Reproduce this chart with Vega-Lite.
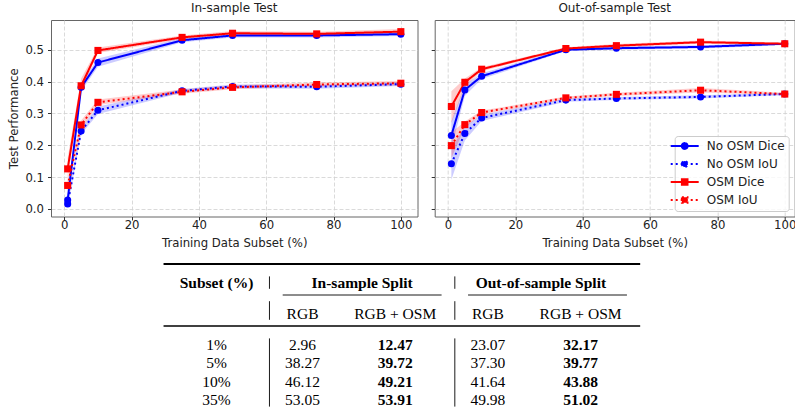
{
  "$schema": "https://vega.github.io/schema/vega-lite/v6.json",
  "padding": {"left": 8, "top": 1, "right": 0, "bottom": 0},
  "background": "white",
  "datasets": {
    "curves": [
      {"panel": "in", "series": "No OSM Dice", "subset": 1, "value": 0.028, "lo": 0.012, "hi": 0.046},
      {"panel": "in", "series": "No OSM Dice", "subset": 5, "value": 0.382, "lo": 0.370, "hi": 0.394},
      {"panel": "in", "series": "No OSM Dice", "subset": 10, "value": 0.460, "lo": 0.447, "hi": 0.473},
      {"panel": "in", "series": "No OSM Dice", "subset": 35, "value": 0.530, "lo": 0.524, "hi": 0.537},
      {"panel": "in", "series": "No OSM Dice", "subset": 50, "value": 0.545, "lo": 0.539, "hi": 0.551},
      {"panel": "in", "series": "No OSM Dice", "subset": 75, "value": 0.545, "lo": 0.539, "hi": 0.551},
      {"panel": "in", "series": "No OSM Dice", "subset": 100, "value": 0.549, "lo": 0.543, "hi": 0.555},
      {"panel": "in", "series": "No OSM IoU", "subset": 1, "value": 0.016, "lo": 0.0045, "hi": 0.028},
      {"panel": "in", "series": "No OSM IoU", "subset": 5, "value": 0.245, "lo": 0.235, "hi": 0.256},
      {"panel": "in", "series": "No OSM IoU", "subset": 10, "value": 0.310, "lo": 0.298, "hi": 0.322},
      {"panel": "in", "series": "No OSM IoU", "subset": 35, "value": 0.371, "lo": 0.365, "hi": 0.377},
      {"panel": "in", "series": "No OSM IoU", "subset": 50, "value": 0.385, "lo": 0.379, "hi": 0.391},
      {"panel": "in", "series": "No OSM IoU", "subset": 75, "value": 0.384, "lo": 0.378, "hi": 0.390},
      {"panel": "in", "series": "No OSM IoU", "subset": 100, "value": 0.392, "lo": 0.386, "hi": 0.398},
      {"panel": "in", "series": "OSM Dice", "subset": 1, "value": 0.126, "lo": 0.095, "hi": 0.160},
      {"panel": "in", "series": "OSM Dice", "subset": 5, "value": 0.387, "lo": 0.372, "hi": 0.410},
      {"panel": "in", "series": "OSM Dice", "subset": 10, "value": 0.498, "lo": 0.490, "hi": 0.507},
      {"panel": "in", "series": "OSM Dice", "subset": 35, "value": 0.539, "lo": 0.533, "hi": 0.545},
      {"panel": "in", "series": "OSM Dice", "subset": 50, "value": 0.552, "lo": 0.546, "hi": 0.559},
      {"panel": "in", "series": "OSM Dice", "subset": 75, "value": 0.550, "lo": 0.544, "hi": 0.557},
      {"panel": "in", "series": "OSM Dice", "subset": 100, "value": 0.557, "lo": 0.549, "hi": 0.5655},
      {"panel": "in", "series": "OSM IoU", "subset": 1, "value": 0.074, "lo": 0.055, "hi": 0.095},
      {"panel": "in", "series": "OSM IoU", "subset": 5, "value": 0.264, "lo": 0.252, "hi": 0.278},
      {"panel": "in", "series": "OSM IoU", "subset": 10, "value": 0.335, "lo": 0.327, "hi": 0.344},
      {"panel": "in", "series": "OSM IoU", "subset": 35, "value": 0.368, "lo": 0.362, "hi": 0.375},
      {"panel": "in", "series": "OSM IoU", "subset": 50, "value": 0.382, "lo": 0.376, "hi": 0.389},
      {"panel": "in", "series": "OSM IoU", "subset": 75, "value": 0.391, "lo": 0.385, "hi": 0.397},
      {"panel": "in", "series": "OSM IoU", "subset": 100, "value": 0.395, "lo": 0.388, "hi": 0.402},
      {"panel": "out", "series": "No OSM Dice", "subset": 1, "value": 0.231, "lo": 0.190, "hi": 0.275},
      {"panel": "out", "series": "No OSM Dice", "subset": 5, "value": 0.374, "lo": 0.355, "hi": 0.390},
      {"panel": "out", "series": "No OSM Dice", "subset": 10, "value": 0.417, "lo": 0.408, "hi": 0.426},
      {"panel": "out", "series": "No OSM Dice", "subset": 35, "value": 0.500, "lo": 0.496, "hi": 0.505},
      {"panel": "out", "series": "No OSM Dice", "subset": 50, "value": 0.505, "lo": 0.500, "hi": 0.510},
      {"panel": "out", "series": "No OSM Dice", "subset": 75, "value": 0.509, "lo": 0.504, "hi": 0.514},
      {"panel": "out", "series": "No OSM Dice", "subset": 100, "value": 0.519, "lo": 0.515, "hi": 0.523},
      {"panel": "out", "series": "No OSM IoU", "subset": 1, "value": 0.142, "lo": 0.092, "hi": 0.190},
      {"panel": "out", "series": "No OSM IoU", "subset": 5, "value": 0.237, "lo": 0.215, "hi": 0.260},
      {"panel": "out", "series": "No OSM IoU", "subset": 10, "value": 0.286, "lo": 0.276, "hi": 0.296},
      {"panel": "out", "series": "No OSM IoU", "subset": 35, "value": 0.342, "lo": 0.337, "hi": 0.347},
      {"panel": "out", "series": "No OSM IoU", "subset": 50, "value": 0.347, "lo": 0.342, "hi": 0.352},
      {"panel": "out", "series": "No OSM IoU", "subset": 75, "value": 0.352, "lo": 0.347, "hi": 0.357},
      {"panel": "out", "series": "No OSM IoU", "subset": 100, "value": 0.361, "lo": 0.357, "hi": 0.365},
      {"panel": "out", "series": "OSM Dice", "subset": 1, "value": 0.322, "lo": 0.270, "hi": 0.370},
      {"panel": "out", "series": "OSM Dice", "subset": 5, "value": 0.398, "lo": 0.385, "hi": 0.410},
      {"panel": "out", "series": "OSM Dice", "subset": 10, "value": 0.439, "lo": 0.433, "hi": 0.445},
      {"panel": "out", "series": "OSM Dice", "subset": 35, "value": 0.504, "lo": 0.500, "hi": 0.508},
      {"panel": "out", "series": "OSM Dice", "subset": 50, "value": 0.513, "lo": 0.508, "hi": 0.518},
      {"panel": "out", "series": "OSM Dice", "subset": 75, "value": 0.524, "lo": 0.519, "hi": 0.529},
      {"panel": "out", "series": "OSM Dice", "subset": 100, "value": 0.519, "lo": 0.515, "hi": 0.523},
      {"panel": "out", "series": "OSM IoU", "subset": 1, "value": 0.199, "lo": 0.160, "hi": 0.240},
      {"panel": "out", "series": "OSM IoU", "subset": 5, "value": 0.265, "lo": 0.255, "hi": 0.275},
      {"panel": "out", "series": "OSM IoU", "subset": 10, "value": 0.303, "lo": 0.297, "hi": 0.309},
      {"panel": "out", "series": "OSM IoU", "subset": 35, "value": 0.349, "lo": 0.345, "hi": 0.353},
      {"panel": "out", "series": "OSM IoU", "subset": 50, "value": 0.360, "lo": 0.355, "hi": 0.365},
      {"panel": "out", "series": "OSM IoU", "subset": 75, "value": 0.373, "lo": 0.366, "hi": 0.380},
      {"panel": "out", "series": "OSM IoU", "subset": 100, "value": 0.361, "lo": 0.357, "hi": 0.365}
    ],
    "table": [
      {"kind": "toprule", "row": "top", "col": "L", "col2": "R"},
      {"kind": "cmidrule", "row": "cmid", "col": "inL", "col2": "inR"},
      {"kind": "cmidrule", "row": "cmid", "col": "outL", "col2": "outR"},
      {"kind": "midrule", "row": "mid", "col": "L", "col2": "R"},
      {"kind": "vline", "col": "sep1", "row": "h1a", "row2": "h1b"},
      {"kind": "vline", "col": "sep2", "row": "h1a", "row2": "h1b"},
      {"kind": "vline", "col": "sep1", "row": "h2a", "row2": "h2b"},
      {"kind": "vline", "col": "sep2", "row": "h2a", "row2": "h2b"},
      {"kind": "vline", "col": "sep1", "row": "ba", "row2": "bb"},
      {"kind": "vline", "col": "sep2", "row": "ba", "row2": "bb"},
      {"kind": "header", "row": "h1", "col": "Subset", "text": "Subset (%)"},
      {"kind": "header", "row": "h1", "col": "InSplit", "text": "In-sample Split"},
      {"kind": "header", "row": "h1", "col": "OutSplit", "text": "Out-of-sample Split"},
      {"kind": "sub", "row": "h2", "col": "InRGB", "text": "RGB"},
      {"kind": "sub", "row": "h2", "col": "InOSM", "text": "RGB + OSM"},
      {"kind": "sub", "row": "h2", "col": "OutRGB", "text": "RGB"},
      {"kind": "sub", "row": "h2", "col": "OutOSM", "text": "RGB + OSM"},
      {"kind": "value", "row": "1%", "col": "Subset", "text": "1%"},
      {"kind": "value", "row": "1%", "col": "InRGB", "text": "2.96"},
      {"kind": "best", "row": "1%", "col": "InOSM", "text": "12.47"},
      {"kind": "value", "row": "1%", "col": "OutRGB", "text": "23.07"},
      {"kind": "best", "row": "1%", "col": "OutOSM", "text": "32.17"},
      {"kind": "value", "row": "5%", "col": "Subset", "text": "5%"},
      {"kind": "value", "row": "5%", "col": "InRGB", "text": "38.27"},
      {"kind": "best", "row": "5%", "col": "InOSM", "text": "39.72"},
      {"kind": "value", "row": "5%", "col": "OutRGB", "text": "37.30"},
      {"kind": "best", "row": "5%", "col": "OutOSM", "text": "39.77"},
      {"kind": "value", "row": "10%", "col": "Subset", "text": "10%"},
      {"kind": "value", "row": "10%", "col": "InRGB", "text": "46.12"},
      {"kind": "best", "row": "10%", "col": "InOSM", "text": "49.21"},
      {"kind": "value", "row": "10%", "col": "OutRGB", "text": "41.64"},
      {"kind": "best", "row": "10%", "col": "OutOSM", "text": "43.88"},
      {"kind": "value", "row": "35%", "col": "Subset", "text": "35%"},
      {"kind": "value", "row": "35%", "col": "InRGB", "text": "53.05"},
      {"kind": "best", "row": "35%", "col": "InOSM", "text": "53.91"},
      {"kind": "value", "row": "35%", "col": "OutRGB", "text": "49.98"},
      {"kind": "best", "row": "35%", "col": "OutOSM", "text": "51.02"}
    ]
  },
  "vconcat": [
    {
      "hconcat": [
        {
          "width": 366.5,
          "height": 196.5,
          "title": {"text": "In-sample Test", "anchor": "middle", "offset": 5},
          "data": {"name": "curves"},
          "transform": [{"filter": "datum.panel == 'in'"}],
          "encoding": {
            "x": {"field": "subset", "type": "quantitative", "scale": {"domain": [-3.95, 104.95], "nice": false, "zero": false},
                  "axis": {"values": [0, 20, 40, 60, 80, 100], "title": "Training Data Subset (%)"}},
            "y": {"type": "quantitative", "scale": {"domain": [-0.0236, 0.5936], "nice": false, "zero": false},
                  "axis": {"values": [0, 0.1, 0.2, 0.3, 0.4, 0.5], "format": ".1f", "title": "Test Performance", "labelOverlap": false}}
          },
          "layer": [
            {"transform": [{"filter": "datum.series == 'No OSM Dice' || datum.series == 'No OSM IoU'"}],
             "mark": {"type": "area", "color": "#0000ff", "opacity": 0.2},
             "encoding": {"y": {"field": "lo"}, "y2": {"field": "hi"}, "detail": {"field": "series", "type": "nominal"}}},
            {"transform": [{"filter": "datum.series == 'OSM Dice' || datum.series == 'OSM IoU'"}],
             "mark": {"type": "area", "color": "#ff0000", "opacity": 0.2},
             "encoding": {"y": {"field": "lo"}, "y2": {"field": "hi"}, "detail": {"field": "series", "type": "nominal"}}},
            {"mark": {"type": "line", "strokeWidth": 2},
             "encoding": {
               "y": {"field": "value"},
               "color": {"field": "series", "type": "nominal", "scale": {"domain": ["No OSM Dice", "No OSM IoU", "OSM Dice", "OSM IoU"], "range": ["#0000ff", "#0000ff", "#ff0000", "#ff0000"]}, "legend": null},
               "strokeDash": {"field": "series", "type": "nominal", "scale": {"domain": ["No OSM Dice", "No OSM IoU", "OSM Dice", "OSM IoU"], "range": [[1, 0], [2, 3], [1, 0], [2, 3]]}, "legend": null}}},
            {"transform": [{"filter": "datum.series == 'No OSM Dice' || datum.series == 'No OSM IoU'"}],
             "mark": {"type": "point", "shape": "circle", "filled": true, "size": 50, "opacity": 1, "color": "#0000ff"},
             "encoding": {"y": {"field": "value"}}},
            {"transform": [{"filter": "datum.series == 'OSM Dice' || datum.series == 'OSM IoU'"}],
             "mark": {"type": "point", "shape": "square", "filled": true, "size": 50, "opacity": 1, "color": "#ff0000"},
             "encoding": {"y": {"field": "value"}}}
          ]
        },
        {
          "width": 360,
          "height": 196.5,
          "title": {"text": "Out-of-sample Test", "anchor": "middle", "offset": 5},
          "data": {"name": "curves"},
          "transform": [{"filter": "datum.panel == 'out'"}],
          "encoding": {
            "x": {"field": "subset", "type": "quantitative", "scale": {"domain": [-3.95, 102.95], "nice": false, "zero": false},
                  "axis": {"values": [0, 20, 40, 60, 80, 100], "title": "Training Data Subset (%)"}},
            "y": {"type": "quantitative", "scale": {"domain": [-0.0236, 0.5936], "nice": false, "zero": false},
                  "axis": {"values": [0, 0.1, 0.2, 0.3, 0.4, 0.5], "labels": false, "title": null}}
          },
          "layer": [
            {"transform": [{"filter": "datum.series == 'legend key only'"}],
             "mark": {"type": "point", "filled": true, "size": 87, "opacity": 1, "strokeWidth": 2},
             "encoding": {
               "y": {"field": "value"},
               "color": {"field": "series", "type": "nominal",
                 "legend": {
                   "title": null, "orient": "bottom-right", "offset": 6, "padding": 4,
                   "fillColor": "rgba(255,255,255,0.8)", "strokeColor": "#cccccc", "cornerRadius": 3,
                   "labelFont": "DejaVu Sans", "labelFontSize": 12, "labelColor": "#222222",
                   "symbolSize": 87, "symbolStrokeWidth": 2, "symbolOpacity": 1, "labelOffset": 16, "rowPadding": 4
                 }},
               "stroke": {"field": "series", "type": "nominal", "legend": {"title": null},
                 "scale": {"domain": ["No OSM Dice", "No OSM IoU", "OSM Dice", "OSM IoU"], "range": ["#0000ff", "#0000ff", "#ff0000", "#ff0000"]}},
               "shape": {"field": "series", "type": "nominal", "legend": {"title": null},
                 "scale": {"domain": ["No OSM Dice", "No OSM IoU", "OSM Dice", "OSM IoU"],
                           "range": ["M-3,0H3M-0.62,0A0.62,0.62,0,1,0,0.62,0A0.62,0.62,0,1,0,-0.62,0Z",
                                     "M-3,0H3M-0.62,0A0.62,0.62,0,1,0,0.62,0A0.62,0.62,0,1,0,-0.62,0Z",
                                     "M-3,0H3M-0.6,-0.6H0.6V0.6H-0.6Z",
                                     "M-3,0H3M-0.6,-0.6H0.6V0.6H-0.6Z"]}},
               "strokeDash": {"field": "series", "type": "nominal", "legend": {"title": null}}}},
            {"transform": [{"filter": "datum.series == 'No OSM Dice' || datum.series == 'No OSM IoU'"}],
             "mark": {"type": "area", "color": "#0000ff", "opacity": 0.2},
             "encoding": {"y": {"field": "lo"}, "y2": {"field": "hi"}, "detail": {"field": "series", "type": "nominal"}}},
            {"transform": [{"filter": "datum.series == 'OSM Dice' || datum.series == 'OSM IoU'"}],
             "mark": {"type": "area", "color": "#ff0000", "opacity": 0.2},
             "encoding": {"y": {"field": "lo"}, "y2": {"field": "hi"}, "detail": {"field": "series", "type": "nominal"}}},
            {"mark": {"type": "line", "strokeWidth": 2, "opacity": 1},
             "encoding": {
               "y": {"field": "value"},
               "color": {"field": "series", "type": "nominal"},
               "strokeDash": {"field": "series", "type": "nominal"}}},
            {"transform": [{"filter": "datum.series == 'No OSM Dice' || datum.series == 'No OSM IoU'"}],
             "mark": {"type": "point", "shape": "circle", "filled": true, "size": 50, "opacity": 1, "color": "#0000ff"},
             "encoding": {"y": {"field": "value"}}},
            {"transform": [{"filter": "datum.series == 'OSM Dice' || datum.series == 'OSM IoU'"}],
             "mark": {"type": "point", "shape": "square", "filled": true, "size": 50, "opacity": 1, "color": "#ff0000"},
             "encoding": {"y": {"field": "value"}}}
          ]
        }
      ],
      "spacing": 11.7,
      "resolve": {"legend": {"color": "independent", "strokeDash": "independent", "shape": "independent", "stroke": "independent"}}
    },
    {
      "width": 662,
      "height": 142.6,
      "view": {"stroke": null},
      "data": {"name": "table"},
      "encoding": {
        "x": {"field": "col", "type": "nominal", "axis": null,
              "scale": {"type": "point", "padding": 0,
                        "domain": ["x0","x1","x2","x3","x4","x5","x6","x7","x8","x9","x10","x11","x12","x13","x14","x15","x16","L","x18","x19","x20","x21","x22","x23","x24","Subset","x26","x27","x28","x29","x30","x31","x32","sep1","x34","inL","x36","x37","InRGB","x39","x40","x41","x42","x43","x44","x45","x46","InSplit","x48","x49","x50","x51","InOSM","x53","x54","x55","x56","x57","x58","inR","x60","sep2","x62","outL","x64","x65","OutRGB","x67","x68","x69","x70","x71","x72","x73","OutSplit","x75","x76","x77","x78","x79","OutOSM","x81","x82","x83","x84","x85","x86","outR","x88","R","x90","x91","x92","x93","x94","x95","x96","x97","x98","x99","x100"]}},
        "y": {"field": "row", "type": "nominal", "axis": null,
              "scale": {"type": "point", "padding": 0,
                        "domain": ["top","y1","h1a","h1","h1b","cmid","h2a","y7","h2","h2b","mid","y11","ba","1%","y14","y15","5%","y17","y18","10%","y20","y21","35%","bb"]}}
      },
      "layer": [
        {"transform": [{"filter": "datum.kind == 'toprule'"}],
         "mark": {"type": "rule", "color": "#000000", "strokeWidth": 1.8},
         "encoding": {"x2": {"field": "col2"}}},
        {"transform": [{"filter": "datum.kind == 'midrule'"}],
         "mark": {"type": "rule", "color": "#000000", "strokeWidth": 1.3},
         "encoding": {"x2": {"field": "col2"}}},
        {"transform": [{"filter": "datum.kind == 'cmidrule'"}],
         "mark": {"type": "rule", "color": "#000000", "strokeWidth": 0.9},
         "encoding": {"x2": {"field": "col2"}}},
        {"transform": [{"filter": "datum.kind == 'vline'"}],
         "mark": {"type": "rule", "color": "#000000", "strokeWidth": 0.9},
         "encoding": {"y2": {"field": "row2"}}},
        {"transform": [{"filter": "datum.kind == 'header' || datum.kind == 'best'"}],
         "mark": {"type": "text", "font": "Liberation Serif", "fontSize": 15.5, "fontWeight": "bold", "color": "#000000", "align": "center", "baseline": "middle"},
         "encoding": {"text": {"field": "text", "type": "nominal"}}},
        {"transform": [{"filter": "datum.kind == 'sub' || datum.kind == 'value'"}],
         "mark": {"type": "text", "font": "Liberation Serif", "fontSize": 15.5, "fontWeight": "normal", "color": "#000000", "align": "center", "baseline": "middle"},
         "encoding": {"text": {"field": "text", "type": "nominal"}}}
      ]
    }
  ],
  "spacing": 13,
  "config": {
    "font": "DejaVu Sans",
    "view": {"stroke": "#666666", "strokeWidth": 1},
    "title": {"font": "DejaVu Sans", "fontSize": 12, "fontWeight": "normal", "color": "#222222"},
    "axis": {
      "labelFont": "DejaVu Sans", "titleFont": "DejaVu Sans", "labelFontSize": 11.7, "titleFontSize": 11.7,
      "titleFontWeight": "normal", "labelColor": "#222222", "titleColor": "#222222",
      "tickColor": "#333333", "tickSize": 3.5, "domain": false, "grid": true,
      "gridColor": "#d0d0d0", "gridDash": [4, 2], "gridWidth": 0.8
    },
    "axisX": {"labelPadding": -1, "titlePadding": 7},
    "axisY": {"labelPadding": 4, "titlePadding": 5}
  }
}
